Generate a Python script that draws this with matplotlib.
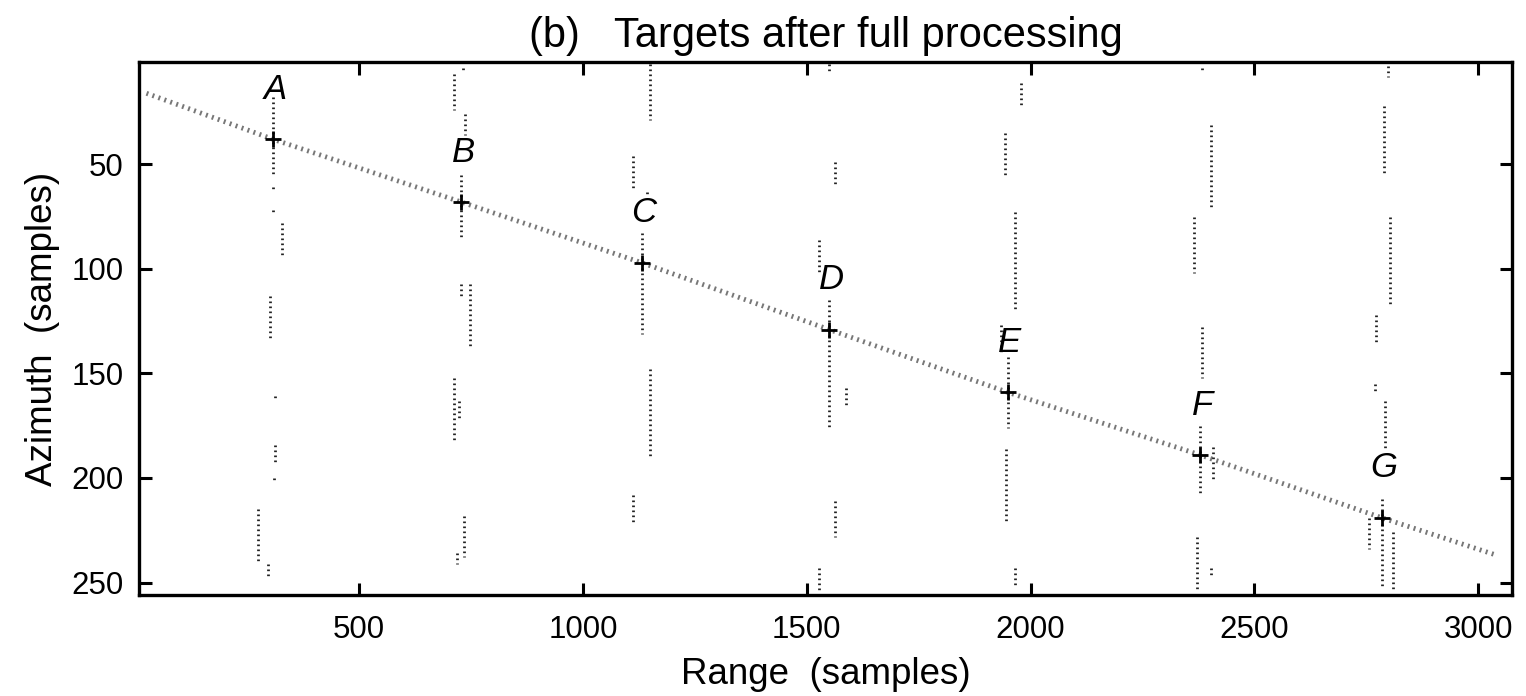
import numpy as np
import matplotlib.pyplot as plt

plt.rcParams['font.family'] = ['Liberation Sans', 'DejaVu Sans']

# target positions (range, azimuth)
target_names = ['A', 'B', 'C', 'D', 'E', 'F', 'G']
target_range = [308, 728, 1131, 1550, 1949, 2379, 2784]
target_azim = [38, 68, 97, 129, 159, 189, 219]

# dotted trail through the targets
trail_range = [25, 308, 728, 1131, 1550, 1949, 2379, 2784, 3042]
trail_azim = [16, 38, 68, 97, 129, 159, 189, 219, 237]

# vertical residue streaks: range, top azimuth, bottom azimuth
streak_range = [308, 308, 308, 327, 302, 312, 312, 310, 275, 297,
                728, 712, 737, 732, 728, 747, 712, 724, 734, 719,
                1131, 1150, 1112, 1150, 1112, 1142,
                1550, 1527, 1564, 1550, 1587, 1564, 1527,
                1949, 1979, 1943, 1965, 1934, 1946, 1965,
                2379, 2404, 2366, 2384, 2384, 2372, 2404, 2407,
                2784, 2799, 2789, 2802, 2772, 2770, 2792, 2809, 2757]
streak_top = [18, 61, 72, 78, 113, 161, 184, 200, 215, 241,
              55, 7, 26, 4, 107, 107, 152, 163, 218, 236,
              83, 2, 46, 148, 208, 63,
              115, 86, 49, 2, 157, 211, 243,
              142, 11, 35, 73, 127, 186, 243,
              175, 31, 75, 128, 4, 228, 243, 185,
              210, 3, 22, 75, 122, 155, 163, 226, 219]
streak_bottom = [55, 62, 74, 94, 134, 163, 193, 202, 240, 248,
                 86, 24, 36, 5, 114, 138, 182, 172, 238, 241,
                 131, 29, 62, 190, 221, 64,
                 176, 103, 61, 7, 166, 228, 254,
                 176, 23, 56, 120, 140, 221, 252,
                 208, 72, 102, 152, 6, 254, 248, 201,
                 252, 8, 55, 118, 136, 160, 187, 253, 234]

x_ticks = [500, 1000, 1500, 2000, 2500, 3000]
y_ticks = [50, 100, 150, 200, 250]

fig = plt.figure(figsize=(15.26, 6.96), dpi=100)
ax = fig.add_axes([0.091, 0.145, 0.900, 0.766])

ax.plot(trail_range, trail_azim, color='#777777', lw=3.5,
        ls=(0, (0.4, 0.9)), zorder=2)
ax.vlines(streak_range, streak_top, streak_bottom, color='#222222',
          lw=2, linestyles=(0, (0.6, 1.2)), zorder=2)
ax.plot(target_range, target_azim, ls='none', marker='+', ms=12, mew=2,
        color='black', zorder=3)

for name, r, a in zip(target_names, target_range, target_azim):
    ax.text(r + 5, a - 16, name, ha='center', va='bottom', fontsize=25,
            style='italic')

ax.set_xlim(8, 3076)
ax.set_ylim(256, 1)
ax.set_xticks(x_ticks)
ax.set_yticks(y_ticks)
ax.tick_params(direction='in', length=9, width=2.2, labelsize=22.5,
               top=True, right=True)
ax.tick_params(axis='x', pad=14)
ax.tick_params(axis='y', pad=11)
for s in ax.spines.values():
    s.set_linewidth(2.4)

ax.set_xlabel('Range  (samples)', fontsize=26.5, labelpad=9)
ax.set_ylabel('Azimuth  (samples)', fontsize=26.5, labelpad=8)
ax.set_title('(b)   Targets after full processing', fontsize=30, pad=11)

fig.savefig('out.png', dpi=100)
